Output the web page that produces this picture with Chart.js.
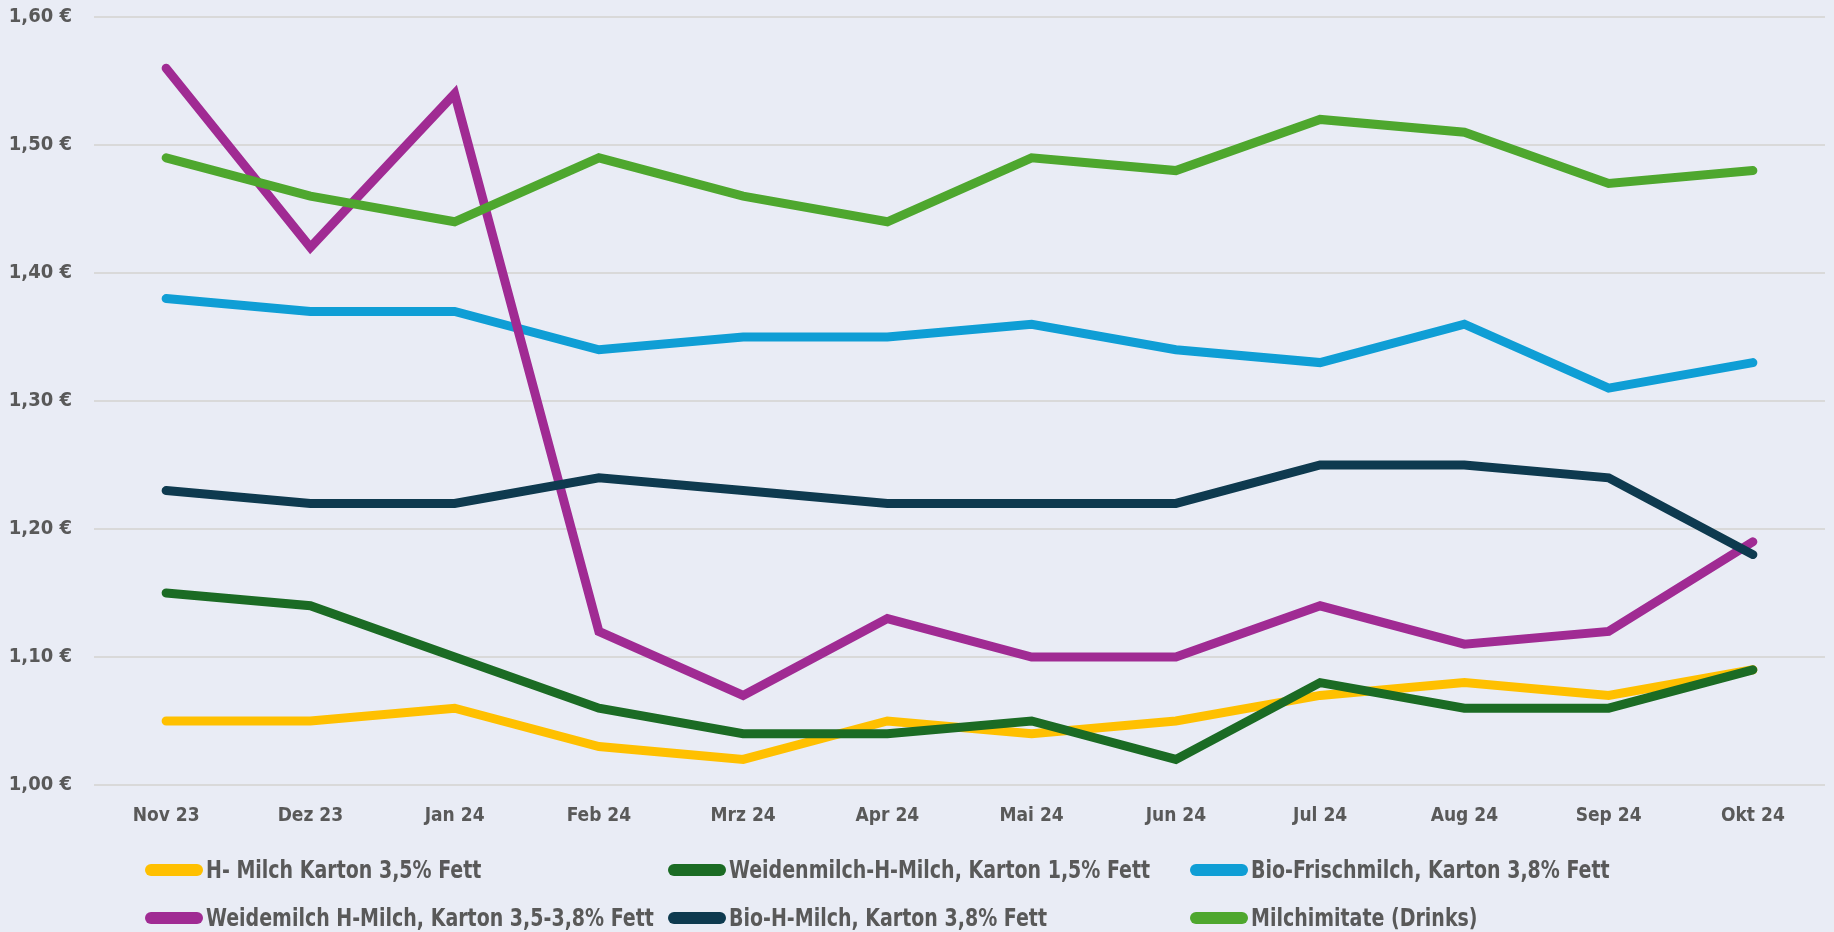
<!DOCTYPE html>
<html lang="de">
<head>
<meta charset="utf-8">
<title>Milchpreise</title>
<script src="https://cdn.jsdelivr.net/npm/chart.js@4/dist/chart.umd.min.js"></script>
<style>
    html, body { margin: 0; padding: 0; background: #E9ECF5; }
    #wrap { position: relative; width: 1834px; height: 932px; }
    #legend {
        position: absolute; left: 145px; top: 852px;
        display: grid; grid-template-columns: 523px 522px auto;
        row-gap: 12px;
        font-family: "Liberation Sans Narrow", "DejaVu Sans Condensed", "Roboto", sans-serif;
        font-weight: bold; font-size: 24px; color: #595959;
    }
    .item { display: flex; align-items: center; height: 36px; white-space: nowrap; }
    .mark { flex: 0 0 58px; height: 12px; border-radius: 6px; margin-right: 3px; }
    .txt { display: inline-block; transform: scaleX(0.88); transform-origin: left center; }
</style>
</head>
<body>
<div id="wrap">
    <canvas id="milkChart" width="1834" height="932"></canvas>
    <div id="legend"></div>
</div>
<script>
const categories = ["Nov 23", "Dez 23", "Jan 24", "Feb 24", "Mrz 24", "Apr 24", "Mai 24", "Jun 24", "Jul 24", "Aug 24", "Sep 24", "Okt 24"];

const seriesNames = [
    "H- Milch Karton 3,5% Fett",
    "Weidenmilch-H-Milch, Karton 1,5% Fett",
    "Bio-Frischmilch, Karton 3,8% Fett",
    "Weidemilch H-Milch, Karton 3,5-3,8% Fett",
    "Bio-H-Milch, Karton 3,8% Fett",
    "Milchimitate (Drinks)",
];
const seriesColors = ["#FFC000", "#1B6B24", "#0F9ED5", "#A02B93", "#0E3A4F", "#4EA72E"];

const hMilch      = [1.05, 1.05, 1.06, 1.03, 1.02, 1.05, 1.04, 1.05, 1.07, 1.08, 1.07, 1.09];
const weidenMilch = [1.15, 1.14, 1.10, 1.06, 1.04, 1.04, 1.05, 1.02, 1.08, 1.06, 1.06, 1.09];
const bioFrisch   = [1.38, 1.37, 1.37, 1.34, 1.35, 1.35, 1.36, 1.34, 1.33, 1.36, 1.31, 1.33];
const weideMilch  = [1.56, 1.42, 1.54, 1.12, 1.07, 1.13, 1.10, 1.10, 1.14, 1.11, 1.12, 1.19];
const bioHMilch   = [1.23, 1.22, 1.22, 1.24, 1.23, 1.22, 1.22, 1.22, 1.25, 1.25, 1.24, 1.18];
const imitate     = [1.49, 1.46, 1.44, 1.49, 1.46, 1.44, 1.49, 1.48, 1.52, 1.51, 1.47, 1.48];

const seriesValues = [hMilch, weidenMilch, bioFrisch, weideMilch, bioHMilch, imitate];

const yMin = 1.0, yMax = 1.6, yStep = 0.1;

const labelFont = { family: "'Liberation Sans Narrow', 'DejaVu Sans Condensed', Roboto, sans-serif", weight: "bold" };

const datasets = seriesNames.map((name, i) => ({
    label: name,
    data: seriesValues[i],
    borderColor: seriesColors[i],
    backgroundColor: seriesColors[i],
    borderWidth: 9,
    borderCapStyle: "round",
    borderJoinStyle: "miter",
    pointRadius: 0,
    tension: 0,
    order: seriesNames.length - i,   // later series drawn on top
}));

new Chart(document.getElementById("milkChart"), {
    type: "line",
    data: { labels: categories, datasets },
    options: {
        responsive: false,
        animation: false,
        layout: { padding: { top: 17, right: 9, left: 0, bottom: 0 } },
        plugins: { legend: { display: false }, tooltip: { enabled: false } },
        scales: {
            x: {
                offset: true,
                grid: { display: false },
                border: { display: false },
                ticks: { color: "#595959", font: { ...labelFont, size: 19 }, padding: 12 },
                afterFit: s => { s.height = 147; },
            },
            y: {
                min: yMin, max: yMax,
                grid: { color: "#D9D9D9", lineWidth: 2, drawTicks: false },
                border: { display: false },
                ticks: {
                    stepSize: yStep,
                    color: "#595959",
                    font: { ...labelFont, size: 20 },
                    padding: 22,
                    callback: v => v.toFixed(2).replace(".", ",") + " €",
                },
                afterFit: s => { s.width = 94; s.paddingTop = 0; s.paddingBottom = 0; },
            },
        },
    },
});

// legend in three columns like the original
const legend = document.getElementById("legend");
seriesNames.forEach((name, i) => {
    const item = document.createElement("div");
    item.className = "item";
    const mark = document.createElement("span");
    mark.className = "mark";
    mark.style.background = seriesColors[i];
    const text = document.createElement("span");
    text.className = "txt";
    text.textContent = name;
    item.append(mark, text);
    legend.appendChild(item);
});
</script>
</body>
</html>
